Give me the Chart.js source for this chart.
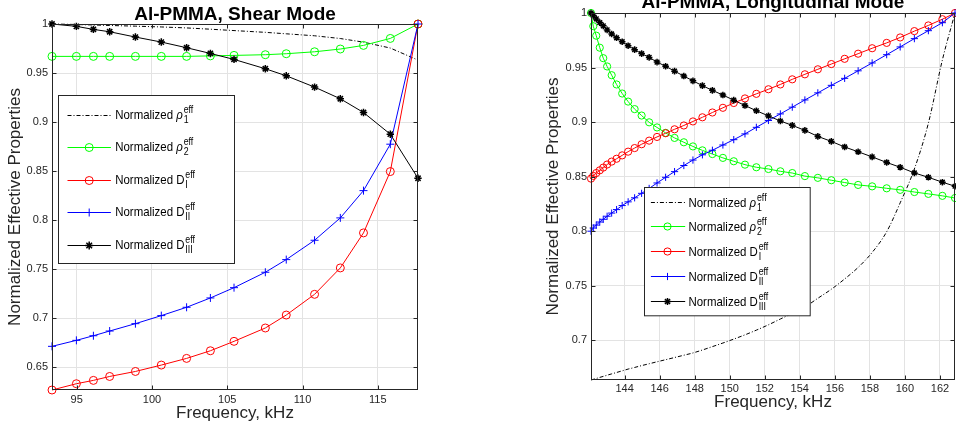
<!DOCTYPE html>
<html lang="en">
<head>
<meta charset="UTF-8">
<title>Al-PMMA normalized effective properties</title>
<script src="https://cdn.jsdelivr.net/npm/chart.js@4.4.1/dist/chart.umd.min.js"></script>
<style>
  html, body { margin: 0; padding: 0; background: #fff; }
  #wrap { position: relative; width: 956px; height: 430px; overflow: hidden; }
  canvas { position: absolute; top: 0; }
  #shear { left: 0; }
  #long { left: 538px; }
</style>
</head>
<body>
<div id="wrap">
  <canvas id="shear" width="478" height="430"></canvas>
  <canvas id="long" width="418" height="430"></canvas>
</div>
<script>
// ---- shear mode (left panel) ----
const shearFreq = [93.36, 94.98, 96.11, 97.19, 98.90, 100.62, 102.30, 103.88, 105.45, 107.53, 108.92, 110.80, 112.51, 114.05, 115.83, 117.67];
const shearRho1 = [1.0, 0.9995, 0.999, 0.9985, 0.9978, 0.997, 0.996, 0.9947, 0.9933, 0.9915, 0.990, 0.988, 0.9852, 0.9815, 0.9755, 0.9632];
const shearRho2 = [0.967, 0.967, 0.967, 0.967, 0.967, 0.967, 0.967, 0.9675, 0.968, 0.9687, 0.9697, 0.9717, 0.9745, 0.9782, 0.9853, 1.0];
const shearD1   = [0.627, 0.6334, 0.6368, 0.6408, 0.6459, 0.6524, 0.6592, 0.6670, 0.6766, 0.6902, 0.7034, 0.7245, 0.7514, 0.7871, 0.8496, 1.0];
const shearD2   = [0.6715, 0.6776, 0.6823, 0.6871, 0.6946, 0.7028, 0.7113, 0.7208, 0.7313, 0.7470, 0.7599, 0.7796, 0.8024, 0.8302, 0.8775, 1.0];
const shearD3   = [1.0, 0.9976, 0.9945, 0.9921, 0.9867, 0.9816, 0.9758, 0.970, 0.9639, 0.9544, 0.9472, 0.9357, 0.9238, 0.9098, 0.8877, 0.8428];
const shearTicksX = [95, 100, 105, 110, 115];
const shearTicksY = [0.65, 0.7, 0.75, 0.8, 0.85, 0.9, 0.95, 1];

// ---- longitudinal mode (right panel) ----
const longFreq = [142.08, 142.21, 142.38, 142.58, 142.78, 143.00, 143.26, 143.54, 143.86, 144.20,
                  144.57, 144.97, 145.40, 145.85, 146.34, 146.85, 147.38, 147.90, 148.44, 149.01,
                  149.61, 150.23, 150.87, 151.52, 152.21, 152.89, 153.57, 154.29, 155.03, 155.80,
                  156.56, 157.33, 158.13, 158.96, 159.73, 160.54, 161.34, 162.14, 162.86];
const longRho1 = [0.6636, 0.6642, 0.665, 0.666, 0.6669, 0.668, 0.6692, 0.6705, 0.672, 0.6736,
                  0.6751, 0.6768, 0.6785, 0.6803, 0.6822, 0.6842, 0.6863, 0.6884, 0.6911, 0.6942,
                  0.6975, 0.7011, 0.705, 0.7093, 0.7142, 0.7195, 0.7247, 0.7305, 0.7385, 0.7468,
                  0.7562, 0.7668, 0.7805, 0.7995, 0.826, 0.857, 0.899, 0.957, 1.0];
const longRho2 = [1.0, 0.9879, 0.9792, 0.9682, 0.9586, 0.951, 0.943, 0.9345, 0.9262, 0.9188,
                  0.9119, 0.906, 0.8998, 0.8951, 0.8901, 0.8855, 0.8815, 0.8777, 0.8741, 0.8707,
                  0.8672, 0.8641, 0.861, 0.8586, 0.857, 0.8549, 0.8533, 0.8505, 0.8489, 0.8467,
                  0.8446, 0.8424, 0.8411, 0.8393, 0.8379, 0.8359, 0.8342, 0.8324, 0.8304];
const longD1   = [0.8482, 0.8507, 0.8533, 0.8558, 0.8583, 0.8611, 0.8638, 0.8664, 0.8695, 0.8729,
                  0.8762, 0.8797, 0.883, 0.8864, 0.8898, 0.8934, 0.8969, 0.9006, 0.9044, 0.9088,
                  0.9131, 0.9175, 0.9217, 0.9259, 0.9301, 0.9345, 0.9392, 0.9438, 0.9484, 0.9532,
                  0.958, 0.9627, 0.9677, 0.9726, 0.9776, 0.9834, 0.9886, 0.9943, 1.0];
const longD2   = [0.8, 0.8029, 0.8056, 0.8084, 0.8109, 0.8137, 0.8166, 0.8198, 0.8235, 0.8269,
                  0.8306, 0.8347, 0.8392, 0.8442, 0.8494, 0.8546, 0.8602, 0.8652, 0.87, 0.8742,
                  0.879, 0.8839, 0.8892, 0.8952, 0.9015, 0.9075, 0.9137, 0.9203, 0.9268, 0.9337,
                  0.9401, 0.947, 0.9542, 0.9618, 0.9689, 0.9765, 0.9838, 0.9911, 1.0];
const longD3   = [1.0, 0.9977, 0.9946, 0.9912, 0.9882, 0.9845, 0.9808, 0.9773, 0.9737, 0.97,
                  0.9664, 0.9628, 0.9593, 0.955, 0.9512, 0.9467, 0.9422, 0.9378, 0.9334, 0.9291,
                  0.9248, 0.9201, 0.9152, 0.9104, 0.9057, 0.901, 0.897, 0.8924, 0.8869, 0.8823,
                  0.8772, 0.8728, 0.8681, 0.863, 0.8586, 0.8534, 0.8494, 0.8449, 0.8412];
const longTicksX = [144, 146, 148, 150, 152, 154, 156, 158, 160, 162];
const longTicksY = [0.7, 0.75, 0.8, 0.85, 0.9, 0.95, 1];

const FONT = '"Liberation Sans", Arial, Helvetica, sans-serif';
const AXIS = '#262626';
const GRID = '#e3e3e3';

const legendItems = [
  { sym: 'ρ', sub: '1',   color: '#000000', dash: [4, 2, 1, 2] },
  { sym: 'ρ', sub: '2',   color: '#00ff00', marker: 'circle' },
  { sym: 'D', sub: 'I',   color: '#ff0000', marker: 'circle' },
  { sym: 'D', sub: 'II',  color: '#0000ff', marker: 'cross' },
  { sym: 'D', sub: 'III', color: '#000000', marker: 'star' }
];

function pts(xs, ys) {
  return xs.map((x, i) => ({ x: x, y: ys[i] }));
}

function buildDatasets(xs, r1, r2, d1, d2, d3, r, smooth) {
  return [
    { data: pts(xs, r1), borderColor: '#000', borderWidth: 1, borderDash: [4, 2, 1, 2],
      pointRadius: 0, order: 5, cubicInterpolationMode: smooth ? 'monotone' : 'default' },
    { data: pts(xs, r2), borderColor: '#00ff00', borderWidth: 1, pointStyle: 'circle',
      pointRadius: r, pointBorderColor: '#00ff00', pointBackgroundColor: 'rgba(0,0,0,0)', pointBorderWidth: 1, order: 4 },
    { data: pts(xs, d1), borderColor: '#ff0000', borderWidth: 1, pointStyle: 'circle',
      pointRadius: r, pointBorderColor: '#ff0000', pointBackgroundColor: 'rgba(0,0,0,0)', pointBorderWidth: 1, order: 3 },
    { data: pts(xs, d2), borderColor: '#0000ff', borderWidth: 1, pointStyle: 'cross',
      pointRadius: r, pointBorderColor: '#0000ff', pointBorderWidth: 1, order: 2 },
    { data: pts(xs, d3), borderColor: '#000000', borderWidth: 1, pointStyle: 'star',
      pointRadius: r - 0.3, pointBorderColor: '#000000', pointBorderWidth: 1.5, order: 1 }
  ].map(d => Object.assign({ clip: false, fill: false, tension: 0 }, d));
}

function drawMarker(ctx, kind, x, y, r, color) {
  ctx.save();
  ctx.strokeStyle = color;
  ctx.lineWidth = kind === 'star' ? 1.5 : 1;
  ctx.beginPath();
  if (kind === 'circle') {
    ctx.arc(x, y, r, 0, Math.PI * 2);
  } else {
    ctx.moveTo(x - r, y); ctx.lineTo(x + r, y);
    ctx.moveTo(x, y - r); ctx.lineTo(x, y + r);
    if (kind === 'star') {
      const d = r * 0.707;
      ctx.moveTo(x - d, y - d); ctx.lineTo(x + d, y + d);
      ctx.moveTo(x - d, y + d); ctx.lineTo(x + d, y - d);
    }
  }
  ctx.stroke();
  ctx.restore();
}

function drawLabel(ctx, x, y, item) {
  ctx.save();
  ctx.translate(x, y);
  ctx.scale(0.88, 1);
  ctx.fillStyle = '#000';
  ctx.textBaseline = 'alphabetic';
  ctx.textAlign = 'left';
  ctx.font = '13px ' + FONT;
  ctx.fillText('Normalized ', 0, 0);
  let w = ctx.measureText('Normalized ').width;
  if (item.sym === 'ρ') ctx.font = 'italic 13px ' + FONT;
  ctx.fillText(item.sym, w, 0);
  w += ctx.measureText(item.sym).width + 1;
  ctx.font = '10px ' + FONT;
  ctx.fillText('eff', w, -6);
  ctx.fillText(item.sub, w, 4);
  ctx.restore();
}

function framePlugin(title, titleGap, leg) {
  return {
    id: 'frame',
    afterDraw(chart) {
      const ctx = chart.ctx;
      const a = chart.chartArea;
      const xs = chart.scales.x, ys = chart.scales.y;
      ctx.save();
      // box + inward ticks
      ctx.strokeStyle = AXIS;
      ctx.lineWidth = 1;
      const L = Math.round(a.left) + 0.5, R = Math.round(a.right) - 0.5;
      const T = Math.round(a.top) + 0.5, B = Math.round(a.bottom) - 0.5;
      ctx.strokeRect(L, T, R - L, B - T);
      ctx.beginPath();
      xs.ticks.forEach(t => {
        const p = Math.round(xs.getPixelForValue(t.value)) + 0.5;
        ctx.moveTo(p, B); ctx.lineTo(p, B - 4);
        ctx.moveTo(p, T); ctx.lineTo(p, T + 4);
      });
      ys.ticks.forEach(t => {
        const p = Math.round(ys.getPixelForValue(t.value)) + 0.5;
        ctx.moveTo(L, p); ctx.lineTo(L + 4, p);
        ctx.moveTo(R, p); ctx.lineTo(R - 4, p);
      });
      ctx.stroke();

      // title
      ctx.fillStyle = '#000';
      ctx.font = 'bold 19px ' + FONT;
      ctx.textAlign = 'center';
      ctx.textBaseline = 'alphabetic';
      ctx.fillText(title, (a.left + a.right) / 2, a.top - titleGap);

      // legend
      const x0 = Math.round(a.left + leg.dx) + 0.5, y0 = Math.round(a.top + leg.dy) + 0.5;
      ctx.fillStyle = '#fff';
      ctx.fillRect(x0, y0, leg.w, leg.h);
      ctx.strokeStyle = AXIS;
      ctx.strokeRect(x0, y0, leg.w, leg.h);
      legendItems.forEach((it, i) => {
        const y = Math.round(y0 + leg.first + i * leg.gap) + 0.5;
        ctx.strokeStyle = it.color;
        ctx.lineWidth = 1;
        ctx.setLineDash(it.dash || []);
        ctx.beginPath();
        ctx.moveTo(x0 + leg.lx0, y); ctx.lineTo(x0 + leg.lx1, y);
        ctx.stroke();
        ctx.setLineDash([]);
        if (it.marker) drawMarker(ctx, it.marker, x0 + leg.mx, y, leg.r, it.color);
        drawLabel(ctx, x0 + leg.tx, y + leg.base, it);
      });
      ctx.restore();
    }
  };
}

function makeChart(id, cfg) {
  const tickFmt = v => String(Math.round(v * 100) / 100);
  return new Chart(document.getElementById(id), {
    type: 'line',
    data: { datasets: cfg.datasets },
    options: {
      responsive: false,
      animation: false,
      devicePixelRatio: 1,
      events: [],
      layout: { autoPadding: false, padding: { top: cfg.padTop, right: cfg.padRight, left: 0, bottom: 0 } },
      plugins: { legend: { display: false }, tooltip: { enabled: false }, title: { display: false } },
      scales: {
        x: {
          type: 'linear', min: cfg.xMin, max: cfg.xMax,
          afterBuildTicks: s => { s.ticks = cfg.xTicks.map(v => ({ value: v })); },
          afterFit: s => { s.height = cfg.xHeight; s.paddingLeft = 0; s.paddingRight = 0; },
          grid: { color: GRID, tickLength: 0 },
          border: { display: false },
          ticks: { font: { family: FONT, size: 11 }, color: AXIS, padding: cfg.xTickPad,
                   autoSkip: false, maxRotation: 0, callback: tickFmt },
          title: { display: true, text: 'Frequency, kHz', color: AXIS,
                   font: { family: FONT, size: 17 }, padding: { top: 0, bottom: cfg.xTitlePad } }
        },
        y: {
          type: 'linear', min: cfg.yMin, max: cfg.yMax,
          afterBuildTicks: s => { s.ticks = cfg.yTicks.map(v => ({ value: v })); },
          afterFit: s => { s.width = cfg.yWidth; s.paddingTop = 0; s.paddingBottom = 0; },
          grid: { color: GRID, tickLength: 0 },
          border: { display: false },
          ticks: { font: { family: FONT, size: 11 }, color: AXIS, padding: 4, callback: tickFmt },
          title: { display: true, text: 'Normalized Effective Properties', color: AXIS,
                   font: { family: FONT, size: 17 }, padding: { top: 5, bottom: 0 } }
        }
      }
    },
    plugins: [framePlugin(cfg.title, cfg.titleGap, cfg.legend)]
  });
}

makeChart('shear', {
  title: 'Al-PMMA, Shear Mode', titleGap: 4.5,
  datasets: buildDatasets(shearFreq, shearRho1, shearRho2, shearD1, shearD2, shearD3, 4, false),
  xMin: 93.36, xMax: 117.67, yMin: 0.627, yMax: 1,
  xTicks: shearTicksX, yTicks: shearTicksY,
  padTop: 24, padRight: 60, xHeight: 40, yWidth: 52, xTickPad: 3, xTitlePad: 6,
  legend: { dx: 6, dy: 71, w: 176, h: 168, first: 19.3, gap: 32.5,
            lx0: 9, lx1: 52.4, mx: 30.7, r: 4, tx: 56.7, base: 3 }
});

makeChart('long', {
  title: 'Al-PMMA, Longitudinal Mode', titleGap: 5.5,
  datasets: buildDatasets(longFreq, longRho1, longRho2, longD1, longD2, longD3, 3.6, true),
  xMin: 142.08, xMax: 162.86, yMin: 0.6636, yMax: 1,
  xTicks: longTicksX, yTicks: longTicksY,
  padTop: 13, padRight: 1, xHeight: 50, yWidth: 53, xTickPad: 2, xTitlePad: 17,
  legend: { dx: 53.3, dy: 173.7, w: 165.7, h: 128.3, first: 14, gap: 24.9,
            lx0: 6.4, lx1: 40.7, mx: 23, r: 3.6, tx: 44, base: 4 }
});
</script>
</body>
</html>
